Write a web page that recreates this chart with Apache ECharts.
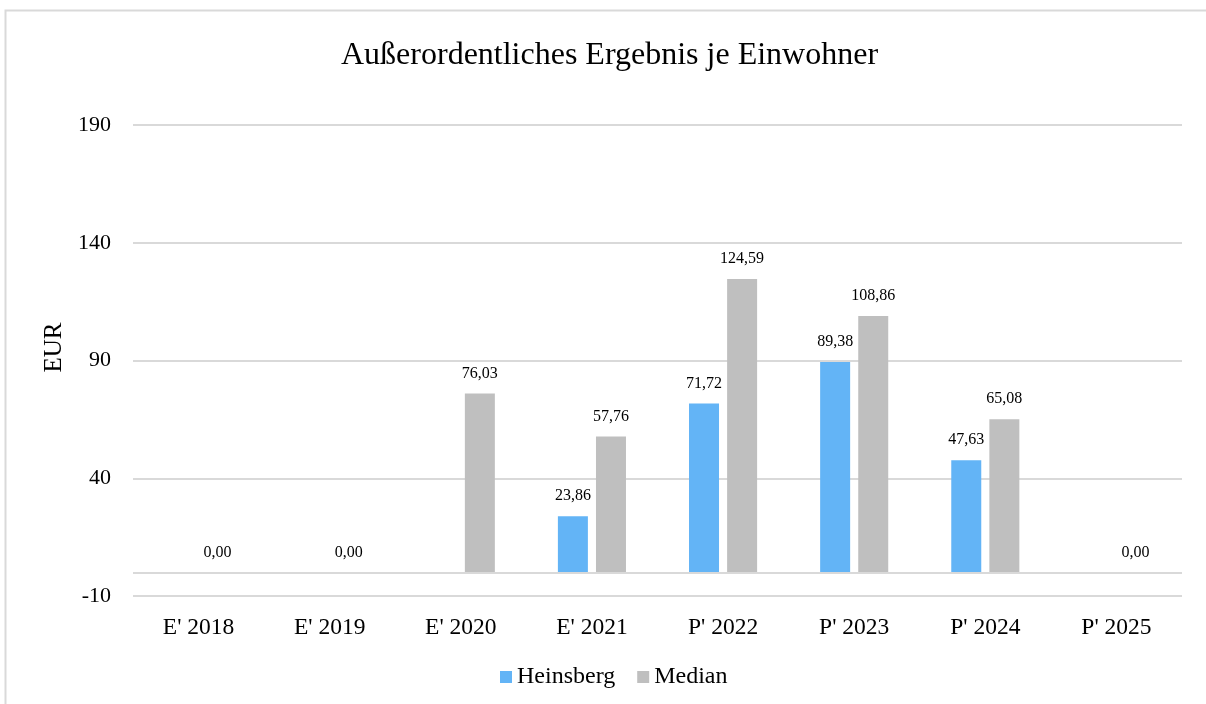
<!DOCTYPE html>
<html>
<head>
<meta charset="utf-8">
<script src="https://cdn.jsdelivr.net/npm/echarts@6/dist/echarts.min.js"></script>
<style>
  html, body { margin: 0; padding: 0; background: #fff; }
  #chart { width: 1206px; height: 704px; }
</style>
</head>
<body>
<div id="chart"></div>
<script>
// Außerordentliches Ergebnis je Einwohner (EUR)
const categories = ["E' 2018", "E' 2019", "E' 2020", "E' 2021", "P' 2022", "P' 2023", "P' 2024", "P' 2025"];
const heinsberg = [null, null, null, 23.86, 71.72, 89.38, 47.63, null];
const median = [0, 0, 76.03, 57.76, 124.59, 108.86, 65.08, 0];
const yTicks = { min: -10, max: 190, step: 50 };

const font = '"Liberation Serif", "DejaVu Serif", serif';
const fmt = v => (v == null ? '' : v.toFixed(2).replace('.', ','));

const labelStyle = {
  show: true,
  position: 'top',
  distance: 12,
  color: '#000',
  fontFamily: font,
  fontSize: 16,
  formatter: p => fmt(p.value)
};

const chart = echarts.init(document.getElementById('chart'), null, { renderer: 'canvas' });
chart.setOption({
  animation: false,
  backgroundColor: '#fff',
  textStyle: { fontFamily: font },
  graphic: [{
    type: 'rect',
    left: 3, top: 8,
    shape: { width: 1230, height: 720 },
    style: { fill: 'none', stroke: '#d9d9d9', lineWidth: 2 },
    silent: true
  }],
  title: {
    text: 'Außerordentliches Ergebnis je Einwohner',
    left: 336,
    top: 35,
    textStyle: { fontFamily: font, fontSize: 32, fontWeight: 'normal', color: '#000' }
  },
  legend: {
    bottom: 10,
    left: 495,
    itemWidth: 12,
    itemHeight: 12,
    itemGap: 22,
    icon: 'rect',
    textStyle: { fontFamily: font, fontSize: 24, color: '#000' },
    data: ['Heinsberg', 'Median']
  },
  grid: { left: 133, right: 24, top: 125, bottom: 108, containLabel: false },
  xAxis: {
    type: 'category',
    data: categories,
    axisLine: { show: false, onZero: false },
    axisTick: { show: false },
    axisLabel: { color: '#000', fontFamily: font, fontSize: 23.5, margin: 20 }
  },
  yAxis: {
    type: 'value',
    min: yTicks.min,
    max: yTicks.max,
    interval: yTicks.step,
    name: 'EUR',
    nameLocation: 'middle',
    nameGap: 64,
    nameRotate: 90,
    nameTextStyle: { color: '#000', fontFamily: font, fontSize: 25, padding: [0, 0, 0, 26] },
    axisLine: { show: false },
    axisTick: { show: false },
    axisLabel: { color: '#000', fontFamily: font, fontSize: 22, margin: 22 },
    splitLine: { lineStyle: { color: '#d9d9d9', width: 2 } }
  },
  series: [
    {
      name: 'Heinsberg',
      type: 'bar',
      data: heinsberg,
      barWidth: 30,
      barGap: '27%',
      itemStyle: { color: '#63b4f6' },
      label: labelStyle
    },
    {
      name: 'Median',
      type: 'bar',
      data: median,
      barWidth: 30,
      barGap: '27%',
      itemStyle: { color: '#bfbfbf' },
      label: labelStyle,
      markLine: {
        silent: true,
        symbol: 'none',
        label: { show: false },
        lineStyle: { color: '#d9d9d9', width: 2, type: 'solid' },
        data: [{ yAxis: 0 }]
      }
    }
  ]
});
</script>
</body>
</html>
